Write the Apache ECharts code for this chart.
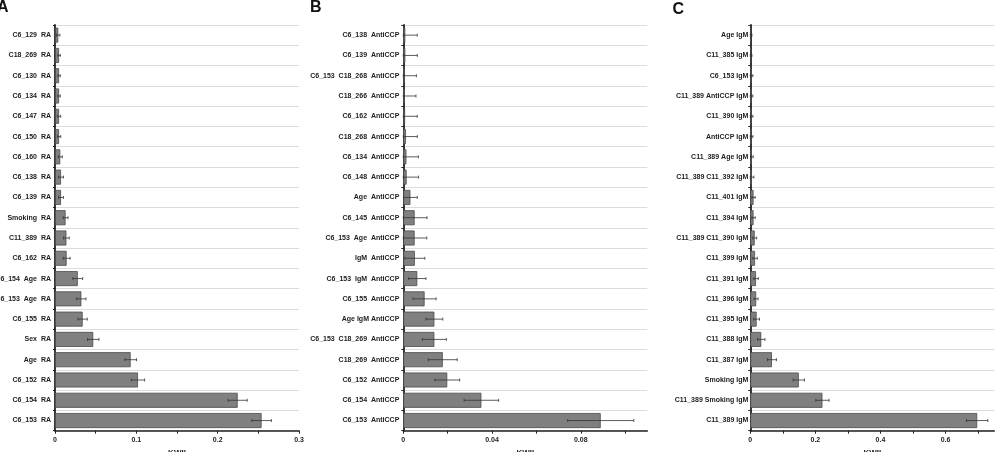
<!DOCTYPE html>
<html lang="en">
<head>
    <meta charset="UTF-8">
    <title>KWII</title>
    <script src="https://cdn.jsdelivr.net/npm/echarts@6/dist/echarts.min.js"></script>
    <style>
        html, body { margin: 0; padding: 0; background: #fff; }
    </style>
</head>
<body>
    <div id="main" style="width:1002px;height:452px;"></div>
    <script>
        // panel A (top to bottom)
        var labelsA = ['C6_129  RA', 'C18_269  RA', 'C6_130  RA', 'C6_134  RA', 'C6_147  RA', 'C6_150  RA',
            'C6_160  RA', 'C6_138  RA', 'C6_139  RA', 'Smoking  RA', 'C11_389  RA', 'C6_162  RA',
            'C6_154  Age  RA', 'C6_153  Age  RA', 'C6_155  RA', 'Sex  RA', 'Age  RA', 'C6_152  RA',
            'C6_154  RA', 'C6_153  RA'];
        var valuesA = [0.004, 0.005, 0.005, 0.005, 0.005, 0.005, 0.0065, 0.0074, 0.0074, 0.013, 0.014, 0.0143,
            0.028, 0.0324, 0.034, 0.047, 0.093, 0.102, 0.2246, 0.254];
        var errorsA = [0.002, 0.0015, 0.0015, 0.0015, 0.002, 0.002, 0.0025, 0.003, 0.003, 0.003, 0.0035, 0.0043,
            0.006, 0.0057, 0.0057, 0.007, 0.0072, 0.0082, 0.0117, 0.012];

        // panel B
        var labelsB = ['C6_138  AntiCCP', 'C6_139  AntiCCP', 'C6_153  C18_268  AntiCCP', 'C18_266  AntiCCP',
            'C6_162  AntiCCP', 'C18_268  AntiCCP', 'C6_134  AntiCCP', 'C6_148  AntiCCP', 'Age  AntiCCP',
            'C6_145  AntiCCP', 'C6_153  Age  AntiCCP', 'IgM  AntiCCP', 'C6_153  IgM  AntiCCP', 'C6_155  AntiCCP',
            'Age IgM AntiCCP', 'C6_153  C18_269  AntiCCP', 'C18_269  AntiCCP', 'C6_152  AntiCCP',
            'C6_154  AntiCCP', 'C6_153  AntiCCP'];
        var valuesB = [0.0009, 0.0009, 0.0007, 0.0007, 0.0008, 0.0012, 0.0014, 0.0015, 0.0032, 0.0051,
            0.0051, 0.0052, 0.0063, 0.0096, 0.014, 0.014, 0.0178, 0.0198, 0.0352, 0.089];
        var errorsB = [0.0054, 0.0054, 0.0052, 0.005, 0.0055, 0.0051, 0.0054, 0.0054, 0.0031, 0.0056,
            0.0055, 0.0045, 0.0039, 0.0052, 0.0038, 0.0054, 0.0065, 0.0056, 0.0078, 0.0149];

        // panel C
        var labelsC = ['Age IgM', 'C11_385 IgM', 'C6_153 IgM', 'C11_389 AntiCCP IgM', 'C11_390 IgM',
            'AntiCCP IgM', 'C11_389 Age IgM', 'C11_389 C11_392 IgM', 'C11_401 IgM', 'C11_394 IgM',
            'C11_389 C11_390 IgM', 'C11_399 IgM', 'C11_391 IgM', 'C11_396 IgM', 'C11_395 IgM',
            'C11_388 IgM', 'C11_387 IgM', 'Smoking IgM', 'C11_389 Smoking IgM', 'C11_389 IgM'];
        var valuesC = [0.002, 0.002, 0.004, 0.004, 0.004, 0.004, 0.005, 0.005, 0.01, 0.01,
            0.0135, 0.0145, 0.0175, 0.018, 0.0194, 0.0337, 0.0665, 0.149, 0.2217, 0.6974];
        var errorsC = [0.003, 0.003, 0.004, 0.004, 0.004, 0.004, 0.004, 0.006, 0.005, 0.005,
            0.006, 0.007, 0.007, 0.006, 0.009, 0.0112, 0.0138, 0.0174, 0.0204, 0.0327];

        var maxA = 0.3, maxB = 0.11, maxC = 0.75;
        var ticksA = [0, 0.05, 0.1, 0.15, 0.2, 0.25, 0.3];
        var tickLabelsA = [0, 0.1, 0.2, 0.3];
        var ticksB = [0, 0.02, 0.04, 0.06, 0.08, 0.1];
        var tickLabelsB = [0, 0.04, 0.08];
        var ticksC = [0, 0.1, 0.2, 0.3, 0.4, 0.5, 0.6, 0.7];
        var tickLabelsC = [0, 0.2, 0.4, 0.6];

        var FONT = '"Liberation Sans", Arial, sans-serif';
        var chart = echarts.init(document.getElementById('main'));

        function errData(vals, errs) {
            return vals.map(function (v, i) {
                return [Math.max(0, v - errs[i]), v + errs[i], i];
            });
        }

        function xAxis(idx, max, ticks, tickLabels) {
            return {
                type: 'value', gridIndex: idx, min: 0, max: max,
                name: 'KWII', nameLocation: 'middle', nameGap: 17,
                nameTextStyle: { fontSize: 8, fontWeight: 'bold', color: '#222', fontFamily: FONT },
                axisLine: { show: true, lineStyle: { color: '#222', width: 1.5 } },
                axisTick: { show: true, length: 3, customValues: ticks, lineStyle: { color: '#222' } },
                axisLabel: { customValues: tickLabels, fontSize: 7, fontWeight: 'bold', color: '#222',
                    fontFamily: FONT, margin: 6 },
                splitLine: { show: false }
            };
        }

        function yAxis(idx, labels, margin) {
            return {
                type: 'category', gridIndex: idx, data: labels, inverse: true,
                axisLine: { show: true, lineStyle: { color: '#222', width: 1.8 } },
                axisTick: { show: true, length: 2, lineStyle: { color: '#222' } },
                axisLabel: { fontSize: 7, fontWeight: 'bold', color: '#222', fontFamily: FONT,
                    margin: margin, interval: 0 },
                splitLine: { show: true, lineStyle: { color: '#dcdcdc', width: 1 } }
            };
        }

        function barSeries(idx, vals) {
            return {
                type: 'bar', xAxisIndex: idx, yAxisIndex: idx, data: vals,
                barCategoryGap: '26%',
                itemStyle: { color: '#808080', borderColor: '#4a4a4a', borderWidth: 0.8 }
            };
        }

        function errSeries(idx, vals, errs) {
            return {
                type: 'custom', xAxisIndex: idx, yAxisIndex: idx, z: 5,
                data: errData(vals, errs),
                encode: { x: [0, 1], y: 2 },
                renderItem: function (params, api) {
                    var lo = api.coord([api.value(0), api.value(2)]);
                    var hi = api.coord([api.value(1), api.value(2)]);
                    var h = 1.5;
                    var style = { stroke: '#333', lineWidth: 0.8 };
                    return {
                        type: 'group',
                        children: [
                            { type: 'line', shape: { x1: lo[0], y1: lo[1], x2: hi[0], y2: hi[1] }, style: style },
                            { type: 'line', shape: { x1: lo[0], y1: lo[1] - h, x2: lo[0], y2: lo[1] + h }, style: style },
                            { type: 'line', shape: { x1: hi[0], y1: hi[1] - h, x2: hi[0], y2: hi[1] + h }, style: style }
                        ]
                    };
                }
            };
        }

        var gridBase = { top: 25, width: 244, height: 405.7, containLabel: false, outerBoundsMode: 'none' };

        chart.setOption({
            animation: false,
            backgroundColor: '#fff',
            grid: [
                Object.assign({ left: 55 }, gridBase),
                Object.assign({ left: 403.3 }, gridBase),
                Object.assign({ left: 750.3 }, gridBase)
            ],
            xAxis: [
                xAxis(0, maxA, ticksA, tickLabelsA),
                xAxis(1, maxB, ticksB, tickLabelsB),
                xAxis(2, maxC, ticksC, tickLabelsC)
            ],
            yAxis: [
                yAxis(0, labelsA, 4),
                yAxis(1, labelsB, 4),
                yAxis(2, labelsC, 2)
            ],
            graphic: [
                { type: 'text', left: -3, top: -0.5, style: { text: 'A', font: 'bold 16px ' + FONT, fill: '#111' } },
                { type: 'text', left: 310, top: -0.5, style: { text: 'B', font: 'bold 16px ' + FONT, fill: '#111' } },
                { type: 'text', left: 672.5, top: 1.5, style: { text: 'C', font: 'bold 16px ' + FONT, fill: '#111' } }
            ],
            series: [
                barSeries(0, valuesA), errSeries(0, valuesA, errorsA),
                barSeries(1, valuesB), errSeries(1, valuesB, errorsB),
                barSeries(2, valuesC), errSeries(2, valuesC, errorsC)
            ]
        });
    </script>
</body>
</html>
